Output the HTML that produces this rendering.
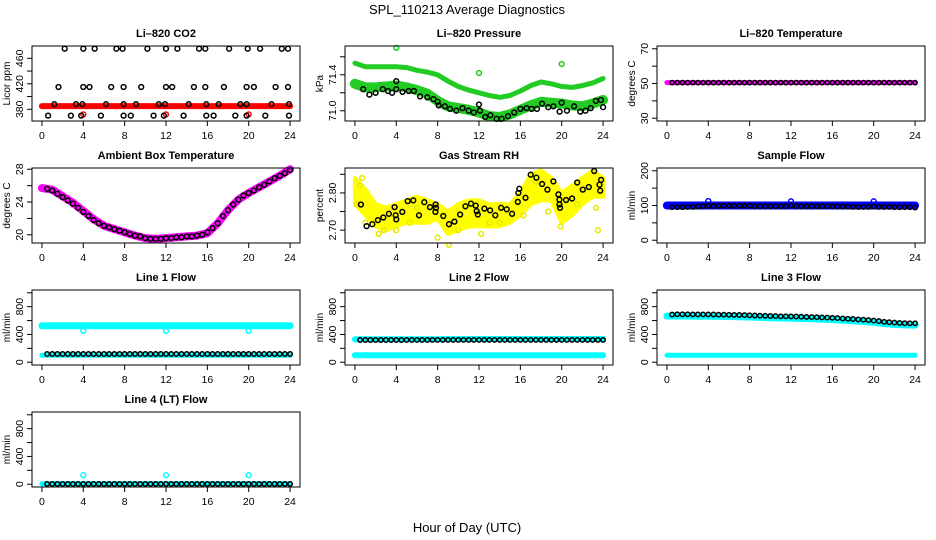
<!DOCTYPE html>
<html><head><meta charset="utf-8"><style>
html,body{margin:0;padding:0;background:#fff;}
svg{display:block;font-family:"Liberation Sans",Arial,sans-serif;}
</style></head><body>
<svg id="chart" width="936" height="540" viewBox="0 0 936 540" xmlns="http://www.w3.org/2000/svg">
<text x="467" y="14" text-anchor="middle" font-size="13">SPL_110213  Average Diagnostics</text>
<text x="467" y="532" text-anchor="middle" font-size="13">Hour of Day (UTC)</text>
</svg>
<script>
// ---- shared x data ----
const hours = [0,1,2,3,4,5,6,7,8,9,10,11,12,13,14,15,16,17,18,19,20,21,22,23,24];
const halfHours = [0.5,1,1.5,2,2.5,3,3.5,4,4.5,5,5.5,6,6.5,7,7.5,8,8.5,9,9.5,10,10.5,11,11.5,12,12.5,13,13.5,14,14.5,15,15.5,16,16.5,17,17.5,18,18.5,19,19.5,20,20.5,21,21.5,22,22.5,23,23.5,24];
const xTicks = [0,4,8,12,16,20,24];
const outlierHours = [4,12,20];

// ---- CO2 ----
const co2Red = [385,385,385,385,385,385,385,385,385,385,385,385,385,385,385,385,385,385,385,385,385,385,385,385,385];
const co2RedOutY = [372,372,372];
const co2BlackX = [2.2,4.0,5.1,7.2,7.8,10.2,12.0,13.1,15.2,15.8,18.1,19.9,21.1,23.2,23.8, 1.6,4.0,4.6,6.7,7.9,9.6,12.0,12.6,14.7,15.8,17.6,19.8,20.5,22.6,23.8, 1.2,3.3,3.9,6.2,7.9,9.1,11.3,11.9,14.2,15.9,17.1,19.2,19.8,22.2,23.9, 0.6,2.8,3.8,5.7,7.9,8.6,10.8,11.8,13.7,15.9,16.6,18.7,19.8,21.6,23.9];
const co2BlackY = [475,475,475,475,475,475,475,475,475,475,475,475,475,475,475, 415,415,415,415,415,415,415,415,415,415,415,415,415,415,415, 388,388,388,388,388,388,388,388,388,388,388,388,388,388,388, 370,370,370,370,370,370,370,370,370,370,370,370,370,370,370];

// ---- Pressure ----
const presUpper = [71.53,71.49,71.49,71.49,71.49,71.48,71.45,71.43,71.40,71.33,71.27,71.23,71.20,71.17,71.15,71.17,71.22,71.28,71.32,71.30,71.27,71.26,71.28,71.31,71.36];
const presLower = [71.30,71.26,71.26,71.27,71.28,71.26,71.23,71.19,71.11,71.05,71.03,71.01,70.98,70.94,70.93,70.96,71.01,71.06,71.10,71.09,71.08,71.06,71.05,71.08,71.12];
const presOutX = [4.0,12.0,20.0];
const presOutY = [71.70,71.42,71.52];
const presBlackX = [0.8,1.4,2,2.7,3.2,3.6,4,4,4.6,5.2,5.7,6.3,7,7.6,8,8.1,8.7,9.2,9.8,10.4,11,11.5,12,12.1,12.6,13.1,13.7,14.2,14.8,15.4,16,16.6,17.1,17.6,18.1,18.7,19.2,19.8,20,20.5,21.2,21.8,22.3,22.8,23.3,23.8,24];
const presBlackY = [71.24,71.18,71.20,71.24,71.22,71.20,71.24,71.33,71.21,71.22,71.22,71.16,71.15,71.13,71.10,71.06,71.05,71.02,71.00,71.03,71.00,70.98,71.07,71.00,70.93,70.95,70.91,70.91,70.94,70.98,71.02,71.03,71.02,71.02,71.08,71.04,71.05,70.99,71.09,71.00,71.05,70.99,71.00,71.03,71.11,71.12,71.04];

// ---- Li-820 temperature ----
const ltMag = [50.5,50.5,50.5,50.5,50.5,50.5,50.5,50.5,50.5,50.5,50.5,50.5,50.5,50.5,50.5,50.5,50.5,50.5,50.5,50.5,50.5,50.5,50.5,50.5,50.5];
const ltBlack = [50.5,50.5,50.5,50.5,50.5,50.5,50.5,50.5,50.5,50.5,50.5,50.5,50.5,50.5,50.5,50.5,50.5,50.5,50.5,50.5,50.5,50.5,50.5,50.5,50.5,50.5,50.5,50.5,50.5,50.5,50.5,50.5,50.5,50.5,50.5,50.5,50.5,50.5,50.5,50.5,50.5,50.5,50.5,50.5,50.5,50.5,50.5,50.5];

// ---- Ambient box temperature ----
const ambMag = [25.7,25.5,24.7,23.9,22.9,21.9,21.1,20.7,20.3,19.9,19.6,19.5,19.6,19.7,19.8,19.9,20.2,21.4,23.0,24.3,25.1,25.8,26.5,27.2,28.0];
const ambBlack = [25.6,25.4,25.0,24.6,24.2,23.8,23.3,22.8,22.3,21.8,21.4,21.1,20.9,20.7,20.5,20.3,20.1,19.9,19.8,19.6,19.5,19.5,19.5,19.6,19.6,19.7,19.7,19.8,19.8,19.9,20.0,20.3,20.8,21.4,22.3,23.0,23.7,24.3,24.8,25.1,25.4,25.8,26.1,26.5,26.9,27.2,27.5,27.9];

// ---- Gas stream RH ----
const rhHigh = [2.84,2.81,2.77,2.76,2.77,2.78,2.79,2.78,2.77,2.75,2.77,2.78,2.78,2.77,2.77,2.77,2.80,2.85,2.86,2.84,2.80,2.82,2.84,2.86,2.84];
const rhLow = [2.77,2.74,2.71,2.70,2.71,2.72,2.72,2.72,2.73,2.69,2.70,2.71,2.71,2.71,2.71,2.72,2.74,2.77,2.78,2.78,2.72,2.74,2.77,2.79,2.79];
const rhYellowX = [0.2,1.0,2.3,5.3,8.0,9.1,12.2,16.3,18.7,23.5,23.3,0.5,0.7,2.8,4.0,10,14,19.9,6.0,13.0,17.5,21.5];
const rhYellowY = [2.77,2.72,2.69,2.72,2.68,2.66,2.69,2.74,2.75,2.70,2.76,2.82,2.84,2.70,2.70,2.70,2.72,2.71,2.76,2.72,2.83,2.77];
const rhBlackX = [0.58,1.13,1.68,2.22,2.74,3.29,3.84,3.94,4.0,4.58,5.1,5.65,6.2,6.71,7.26,7.8,7.84,7.78,8.55,9.1,9.62,10.17,10.68,11.23,11.68,11.78,11.88,12.52,13.07,13.58,14.14,14.68,15.2,15.75,15.81,15.9,16.5,17.0,17.55,18.1,18.62,19.2,19.68,19.78,19.78,19.84,20.42,21.0,21.5,22.04,22.62,23.14,23.65,23.72,23.81];
const rhBlackY = [2.769,2.711,2.716,2.727,2.734,2.744,2.762,2.740,2.729,2.749,2.778,2.780,2.740,2.775,2.762,2.769,2.760,2.749,2.738,2.716,2.723,2.742,2.764,2.771,2.766,2.751,2.742,2.758,2.753,2.740,2.760,2.756,2.744,2.776,2.800,2.811,2.787,2.849,2.841,2.824,2.809,2.831,2.796,2.782,2.769,2.760,2.781,2.785,2.828,2.809,2.816,2.859,2.822,2.806,2.835];

// ---- Sample flow ----
const sfBlue = [100,100,100,100,100,100,100,100,100,100,100,100,100,100,100,100,100,100,100,100,100,100,100,100,100];
const sfBlueOutY = [113,112,112];
const sfBlack = [95,95,95,96,96,97,98,99,98,99,99,99,99,99,99,99,98,98,98,98,98,98,98,100,98,98,98,98,98,98,98,98,97,97,97,96,96,96,96,97,96,96,96,95,95,95,95,94];

// ---- Line 1 flow ----
const l1Upper = [525,525,525,525,525,525,525,525,525,525,525,525,525,525,525,525,525,525,525,525,525,525,525,525,525];
const l1Lower = [100,100,100,100,100,100,100,100,100,100,100,100,100,100,100,100,100,100,100,100,100,100,100,100,100];
const l1OutY = [450,450,450];
const l1Black = [118,118,118,118,118,118,118,118,118,118,118,118,118,118,118,118,118,118,118,118,118,118,118,118,118,118,118,118,118,118,118,118,118,118,118,118,118,118,118,118,118,118,118,118,118,118,118,118];

// ---- Line 2 flow ----
const l2Upper = [330,330,330,330,330,330,330,330,330,335,335,335,335,335,335,335,335,335,335,335,335,335,335,335,335];
const l2Lower = [100,100,100,100,100,100,100,100,100,100,100,100,100,100,100,100,100,100,100,100,100,100,100,100,100];
const l2Black = [320,320,320,320,320,320,320,320,320,322,322,322,322,322,322,322,322,322,322,322,322,322,322,322,322,322,322,322,322,322,322,322,322,322,322,322,322,322,322,322,322,322,322,322,322,322,322,322];

// ---- Line 3 flow ----
const l3Upper = [665,665,665,663,663,660,658,655,651,645,640,637,635,630,625,620,615,605,597,587,575,557,545,537,535];
const l3Lower = [100,100,100,100,100,100,100,100,100,100,100,100,100,100,100,100,100,100,100,100,100,100,100,100,100];
const l3Black = [686,690,690,690,689,688,688,688,687,685,684,683,682,680,678,676,673,670,668,665,664,662,661,660,658,655,652,650,648,645,642,640,635,630,626,622,617,612,606,600,592,582,576,570,566,562,561,560];

// ---- Line 4 flow ----
const l4Cyan = [8,8,8,8,8,8,8,8,8,8,8,8,8,8,8,8,8,8,8,8,8,8,8,8,8];
const l4OutY = [130,130,130];
const l4Black = [5,5,5,5,5,5,5,5,5,5,5,5,5,5,5,5,5,5,5,5,5,5,5,5,5,5,5,5,5,5,5,5,5,5,5,5,5,5,5,5,5,5,5,5,5,5,5,5];

const NS = "http://www.w3.org/2000/svg";
const svg = document.getElementById('chart');
const colLeft = [32,345,657], rowTop = [46,168,290,412], PW = 268, PH = 75;
const XMIN = -0.96, XMAX = 24.96;

function mk(tag, attrs, parent){
  const e = document.createElementNS(NS, tag);
  for (const k in attrs) e.setAttribute(k, attrs[k]);
  (parent||svg).appendChild(e);
  return e;
}

function makePanel(col,row,title,ylab,ymin,ymax,ticks,labels,name){
  const L = colLeft[col], T = rowTop[row];
  const g = mk('g',{});
  
  
  const sx = v => L + (v - XMIN) / (XMAX - XMIN) * PW;
  const sy = v => T + PH - (v - ymin) / (ymax - ymin) * PH;
  const t = mk('text',{x:L+PW/2,y:T-9,'text-anchor':'middle','font-size':'11','font-weight':'bold'},g);
  t.textContent = title;
  
  
  const yl = mk('text',{x:0,y:0,'text-anchor':'middle','font-size':'10',transform:`translate(${L-22},${T+PH/2}) rotate(-90)`},g);
  yl.textContent = ylab;
  
  
  ticks.forEach((v,i)=>{
    const y = sy(v);
    mk('line',{x1:L-5,x2:L,y1:y,y2:y,stroke:'#000','stroke-width':1},g);
    if (labels[i] !== '') {
      const tl = mk('text',{x:0,y:0,'text-anchor':'middle','font-size':'10.5',transform:`translate(${L-9},${y}) rotate(-90)`},g);
      tl.textContent = labels[i];
      
      
    }
  });
  xTicks.forEach(v=>{
    const x = sx(v);
    mk('line',{x1:x,x2:x,y1:T+PH,y2:T+PH+5,stroke:'#000','stroke-width':1},g);
    const xl = mk('text',{x:x,y:T+PH+18,'text-anchor':'middle','font-size':'10.5'},g);
    xl.textContent = String(v);
    
    
  });
  const plot = mk('g',{},g);
  const box = mk('rect',{x:L,y:T,width:PW,height:PH,fill:'none',stroke:'#000','stroke-width':1},g);
  
  
  return {g:plot,sx,sy};
}

function band(p,xs,ys,color,width,name){
  const pts = xs.map((x,i)=>`${p.sx(x).toFixed(1)},${p.sy(ys[i]).toFixed(1)}`).join(' ');
  const pl = mk('polyline',{points:pts,fill:'none',stroke:color,'stroke-width':width,'stroke-linejoin':'round','stroke-linecap':'round'},p.g);
  
  
}
function pts(p,xs,ys,color,name,r){
  xs.forEach((x,i)=>{
    const c = mk('circle',{cx:p.sx(x).toFixed(1),cy:p.sy(ys[i]).toFixed(1),r:r||2.4,fill:'none',stroke:color,'stroke-width':1.5},p.g);
    
    
  });
}

// CO2
let p = makePanel(0,0,'Li\u2013820 CO2','Licor ppm',361.6,479.3,[380,400,420,440,460],['380','','420','','460'],'co2');
band(p,hours,co2Red,'#ff0000',6,'co2-red-band');
pts(p,outlierHours,co2RedOutY,'#ff0000','co2-red-point');
pts(p,co2BlackX,co2BlackY,'#000','co2-black-point');

// Pressure
p = makePanel(1,0,'Li\u2013820 Pressure','kPa',70.886,71.72,[71.0,71.2,71.4,71.6],['71.0','','71.4',''],'pressure');
band(p,hours,presUpper,'#22cc22',5,'pressure-upper-band');
band(p,hours,presLower,'#22cc22',10,'pressure-lower-band');
pts(p,presOutX,presOutY,'#22cc22','pressure-green-point');
pts(p,presBlackX,presBlackY,'#000','pressure-black-point');

// Li-820 Temperature
p = makePanel(2,0,'Li\u2013820 Temperature','degrees C',28.4,71.6,[30,40,50,60,70],['30','','50','','70'],'li820-temp');
band(p,hours,ltMag,'#ff00ff',5,'li820-temp-band');
pts(p,halfHours,ltBlack,'#000','li820-temp-black-point',2.1);

// Ambient
p = makePanel(0,1,'Ambient Box Temperature','degrees C',19.0,28.15,[20,22,24,26,28],['20','','24','','28'],'ambient-temp');
band(p,hours,ambMag,'#ff00ff',8,'ambient-temp-band');
pts(p,halfHours,ambBlack,'#000','ambient-temp-black-point');

// RH
p = makePanel(1,1,'Gas Stream RH','percent',2.6655,2.867,[2.70,2.75,2.80,2.85],['2.70','','2.80',''],'rh');
(function(){
  const up = hours.map((x,i)=>`${p.sx(x).toFixed(1)},${p.sy(rhHigh[i]).toFixed(1)}`);
  const dn = hours.map((x,i)=>`${p.sx(x).toFixed(1)},${p.sy(rhLow[i]).toFixed(1)}`).reverse();
  const pg = mk('polygon',{points:up.concat(dn).join(' '),fill:'#ffff00',stroke:'#ffff00','stroke-width':4,'stroke-linejoin':'round'},p.g);
  
  
})();
pts(p,rhYellowX,rhYellowY,'#e8e800','rh-yellow-point');
pts(p,rhBlackX,rhBlackY,'#000','rh-black-point');

// Sample flow
p = makePanel(2,1,'Sample Flow','ml/min',-8,208,[0,50,100,150,200],['0','','100','','200'],'sample-flow');
band(p,hours,sfBlue,'#0000ff',8,'sample-flow-band');
pts(p,outlierHours,sfBlueOutY,'#0000ff','sample-flow-blue-point');
pts(p,halfHours,sfBlack,'#000','sample-flow-black-point',2.2);

const flowTicks = [0,200,400,600,800,1000], flowLabels = ['0','','400','','800',''];
// Line 1
p = makePanel(0,2,'Line 1 Flow','ml/min',-40,1040,flowTicks,flowLabels,'line1-flow');
band(p,hours,l1Upper,'#00ffff',7,'line1-upper-band');
band(p,hours,l1Lower,'#00ffff',5,'line1-lower-band');
pts(p,outlierHours,l1OutY,'#00ffff','line1-cyan-point');
pts(p,halfHours,l1Black,'#000','line1-black-point',2.2);

// Line 2
p = makePanel(1,2,'Line 2 Flow','ml/min',-40,1040,flowTicks,flowLabels,'line2-flow');
band(p,hours,l2Upper,'#00ffff',6,'line2-upper-band');
band(p,hours,l2Lower,'#00ffff',6,'line2-lower-band');
pts(p,halfHours,l2Black,'#000','line2-black-point',2.2);

// Line 3
p = makePanel(2,2,'Line 3 Flow','ml/min',-40,1040,flowTicks,flowLabels,'line3-flow');
band(p,hours,l3Upper,'#00ffff',7,'line3-upper-band');
band(p,hours,l3Lower,'#00ffff',5,'line3-lower-band');
pts(p,halfHours,l3Black,'#000','line3-black-point',2.2);

// Line 4
p = makePanel(0,3,'Line 4 (LT) Flow','ml/min',-40,1040,flowTicks,flowLabels,'line4-flow');
band(p,hours,l4Cyan,'#00ffff',5,'line4-band');
pts(p,outlierHours,l4OutY,'#00ffff','line4-cyan-point');
pts(p,halfHours,l4Black,'#000','line4-black-point',2.2);
</script>
</body></html>
